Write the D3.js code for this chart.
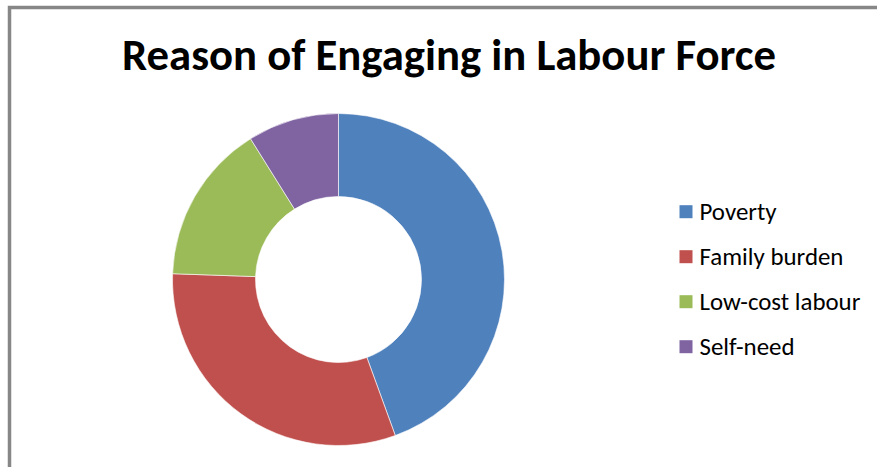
<!DOCTYPE html>
<html><head><meta charset="utf-8">
<script src="https://cdn.jsdelivr.net/npm/d3@7"></script>
<style>html,body{margin:0;padding:0;background:#fff;overflow:hidden}</style>
</head><body>
<svg id="c" width="877" height="467"></svg>
<script>
const title = "Reason of Engaging in Labour Force";
const categories = ["Poverty", "Family burden", "Low-cost labour", "Self-need"];
const values = [40, 28, 14, 8];
const colors = ["#4F81BD", "#C0504D", "#9BBB59", "#8064A2"];

const svg = d3.select("#c");
svg.append("rect").attr("x",0).attr("y",0).attr("width",877).attr("height",467).attr("fill","#fff");
// frame (left and top visible)
svg.append("rect").attr("x",9.5).attr("y",7.5).attr("width",900).attr("height",500)
  .attr("fill","none").attr("stroke","#878787").attr("stroke-width",3.5);

const font = "Carlito, Calibri, Lato, 'Open Sans', sans-serif";
const t = svg.append("text").text(title).attr("x",449).attr("y",70)
  .attr("text-anchor","middle").attr("font-family",font).attr("font-weight","bold")
  .attr("font-size",40).attr("fill","#000");
let w = t.node().getComputedTextLength();
t.attr("font-size", 40*654/w);

const color = d3.scaleOrdinal().domain(categories).range(colors);
const pie = d3.pie().sort(null).value(d => d.v);
const data = categories.map((c,i)=>({c, v: values[i]}));
const arc = d3.arc().innerRadius(83).outerRadius(166);
const g = svg.append("g").attr("transform","translate(338.5,279.5)");
g.selectAll("path").data(pie(data)).join("path")
  .attr("d", arc).attr("fill", d => color(d.data.c))
  .attr("stroke","#fff").attr("stroke-width",0.6);

const y = d3.scalePoint().domain(categories).range([211.7, 346.7]);
const lg = svg.append("g");
const items = lg.selectAll("g").data(categories).join("g")
  .attr("transform", d => `translate(679.5,${y(d)})`);
items.append("rect").attr("x",0).attr("y",-6.5).attr("width",13).attr("height",13)
  .attr("fill", d => color(d));
const labels = items.append("text").text(d=>d).attr("x",20).attr("y",0).attr("dy","0.35em")
  .attr("font-family",font).attr("font-size",20).attr("fill","#000");
const fw = labels.filter(d=>d==="Family burden").node().getComputedTextLength();
labels.attr("font-size", 20*144/fw);
</script>
</body></html>
